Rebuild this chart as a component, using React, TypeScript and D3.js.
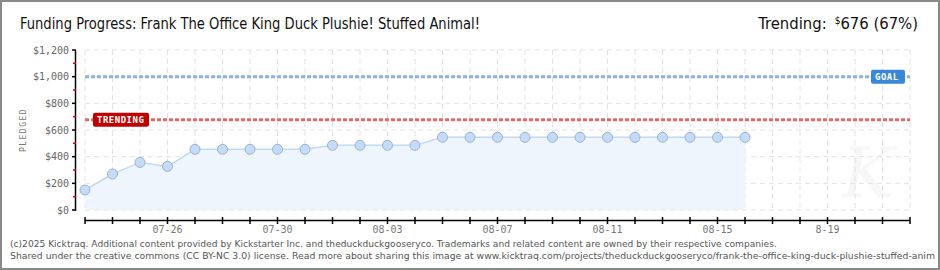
import React, { useEffect, useRef } from 'react';
import * as d3 from 'd3';

// ---- data ----
const days = [
  '2025-07-23', '2025-07-24', '2025-07-25', '2025-07-26', '2025-07-27', '2025-07-28', '2025-07-29',
  '2025-07-30', '2025-07-31', '2025-08-01', '2025-08-02', '2025-08-03', '2025-08-04', '2025-08-05',
  '2025-08-06', '2025-08-07', '2025-08-08', '2025-08-09', '2025-08-10', '2025-08-11', '2025-08-12',
  '2025-08-13', '2025-08-14', '2025-08-15', '2025-08-16',
];
const pledged = [
  150, 270, 357, 327, 455, 455, 455,
  455, 455, 485, 485, 485, 485, 545,
  545, 545, 545, 545, 545, 545, 545,
  545, 545, 545, 545,
];
const rangeStart = '2025-07-23';
const rangeEnd = '2025-08-22';
const labelDays = ['2025-07-26', '2025-07-30', '2025-08-03', '2025-08-07', '2025-08-11', '2025-08-15', '2025-08-19'];
const labelTexts = ['07-26', '07-30', '08-03', '08-07', '08-11', '08-15', '8-19'];
const yTicks = [0, 200, 400, 600, 800, 1000, 1200];
const yMinor = [100, 300, 500, 700, 900, 1100];
const goal = 1000;
const trending = 676;

const title = 'Funding Progress: Frank The Office King Duck Plushie! Stuffed Animal!';
const footer1 = '(c)2025 Kicktraq. Additional content provided by Kickstarter Inc. and theduckduckgooseryco. Trademarks and related content are owned by their respective companies.';
const footer2 = 'Shared under the creative commons (CC BY-NC 3.0) license. Read more about sharing this image at www.kicktraq.com/projects/theduckduckgooseryco/frank-the-office-king-duck-plushie-stuffed-anim';

export default function App() {
  const ref = useRef<SVGSVGElement>(null);
  const width = 940;
  const height = 270;
  const pixFont = '"DejaVu Sans Mono", monospace';

  useEffect(() => {
    const svg = d3.select(ref.current);
    svg.selectAll('*').remove();
    const parse = d3.timeParse('%Y-%m-%d');

    const x = d3.scaleTime()
      .domain([parse(rangeStart)!, parse(rangeEnd)!])
      .range([85, 910]);
    const y = d3.scaleLinear().domain([0, 1200]).range([210, 50]);

    // background + frame
    svg.append('rect').attr('x', 0).attr('y', 0).attr('width', width).attr('height', height).attr('fill', '#fff');
    svg.append('rect').attr('x', 1).attr('y', 1).attr('width', width - 2).attr('height', height - 2)
      .attr('fill', 'none').attr('stroke', '#8a8a8a').attr('stroke-width', 2);

    // ---------- title ----------
    svg.append('text')
      .attr('x', 20).attr('y', 29)
      .attr('font-family', '"DejaVu Sans Condensed", "Liberation Sans Narrow", "Roboto Condensed", sans-serif')
      .attr('font-stretch', 'condensed')
      .attr('font-size', 16.5)
      .attr('fill', '#111')
      .attr('textLength', 460).attr('lengthAdjust', 'spacingAndGlyphs')
      .text(title);

    const tr = svg.append('text')
      .attr('x', 918).attr('y', 29)
      .attr('text-anchor', 'end')
      .attr('font-family', '"DejaVu Sans Condensed", "Liberation Sans Narrow", sans-serif')
      .attr('font-stretch', 'condensed')
      .attr('font-size', 16.5)
      .attr('fill', '#111');
    tr.append('tspan').text('Trending:');
    tr.append('tspan').attr('font-size', 10).attr('dx', 8).attr('dy', -5).text('$');
    tr.append('tspan').attr('dy', 5).text(`${trending} (${Math.floor(trending / goal * 100)}%)`);

    // ---------- watermark ----------
    svg.append('text')
      .attr('x', 868).attr('y', 197)
      .attr('text-anchor', 'middle')
      .attr('font-family', '"DejaVu Serif", serif')
      .attr('font-style', 'italic')
      .attr('font-size', 70)
      .attr('fill', '#f7f7f7')
      .text('K');

    // ---------- grid ----------
    const dayTicks = d3.timeDay.range(x.domain()[0], d3.timeDay.offset(x.domain()[1], 1));
    svg.append('g').selectAll('line').data(dayTicks).join('line')
      .attr('x1', d => x(d)).attr('x2', d => x(d))
      .attr('y1', 50).attr('y2', 210)
      .attr('stroke', '#e2e2e2').attr('stroke-dasharray', '5,4');
    svg.append('g').selectAll('line').data(yTicks).join('line')
      .attr('x1', 85).attr('x2', 910)
      .attr('y1', d => y(d)).attr('y2', d => y(d))
      .attr('stroke', '#e2e2e2').attr('stroke-dasharray', '5,4');

    // ---------- area + line ----------
    const pts = days.map((d, i) => ({ date: parse(d)!, v: pledged[i] }));
    svg.append('path').datum(pts)
      .attr('fill', '#eef5fd')
      .attr('d', d3.area<any>().x(d => x(d.date)).y0(y(0)).y1(d => y(d.v)));
    svg.append('path').datum(pts)
      .attr('fill', 'none').attr('stroke', '#c3d9f1').attr('stroke-width', 1.5)
      .attr('d', d3.line<any>().x(d => x(d.date)).y(d => y(d.v)));

    // ---------- goal + trending ----------
    svg.append('line')
      .attr('x1', 85).attr('x2', 910).attr('y1', y(goal)).attr('y2', y(goal))
      .attr('stroke', '#8db1de').attr('stroke-width', 3).attr('stroke-dasharray', '4,2');
    svg.append('line')
      .attr('x1', 85).attr('x2', 910).attr('y1', y(trending)).attr('y2', y(trending))
      .attr('stroke', '#e06a6a').attr('stroke-width', 3).attr('stroke-dasharray', '4,2');

    // points
    svg.append('g').selectAll('circle').data(pts).join('circle')
      .attr('cx', d => x(d.date)).attr('cy', d => y(d.v))
      .attr('r', 5)
      .attr('fill', '#c4dcf7').attr('stroke', '#98b2d0').attr('stroke-width', 1);

    // label boxes
    const badge = (bx: number, by: number, w: number, fill: string, label: string) => {
      svg.append('rect').attr('x', bx).attr('y', by - 7).attr('width', w).attr('height', 14)
        .attr('rx', 2).attr('fill', fill);
      svg.append('text')
        .attr('x', bx + 4).attr('y', by + 3.5)
        .attr('font-family', pixFont).attr('font-size', 9).attr('font-weight', 'bold')
        .attr('fill', '#fff').attr('letter-spacing', 0.5)
        .text(label);
    };
    badge(93, y(trending), 56, '#c00000', 'TRENDING');
    badge(871, y(goal), 34, '#3a87d6', 'GOAL');

    // ---------- y axis ----------
    svg.append('line').attr('x1', 75.5).attr('x2', 75.5).attr('y1', 50).attr('y2', 211)
      .attr('stroke', '#000').attr('stroke-width', 1.5);
    svg.append('g').selectAll('line').data(yTicks).join('line')
      .attr('x1', 72).attr('x2', 76).attr('y1', d => y(d)).attr('y2', d => y(d))
      .attr('stroke', '#000').attr('stroke-width', 1.5);
    svg.append('g').selectAll('line').data(yMinor).join('line')
      .attr('x1', 73).attr('x2', 76).attr('y1', d => y(d)).attr('y2', d => y(d))
      .attr('stroke', '#e00000').attr('stroke-width', 1.5);
    svg.append('g').selectAll('text').data(yTicks).join('text')
      .attr('x', 69).attr('y', d => y(d) + 3.5)
      .attr('text-anchor', 'end')
      .attr('font-family', pixFont).attr('font-size', 10)
      .attr('fill', '#666')
      .text(d => d3.format('$,')(d));

    svg.append('text')
      .attr('transform', 'translate(26,130) rotate(-90)')
      .attr('text-anchor', 'middle')
      .attr('font-family', pixFont).attr('font-size', 8)
      .attr('letter-spacing', 1.5)
      .attr('fill', '#777')
      .text('PLEDGED');

    // ---------- x axis ----------
    svg.append('line').attr('x1', 85).attr('x2', 910).attr('y1', 220.5).attr('y2', 220.5)
      .attr('stroke', '#000').attr('stroke-width', 1.5);
    svg.append('g').selectAll('line').data(dayTicks).join('line')
      .attr('x1', d => x(d)).attr('x2', d => x(d))
      .attr('y1', 217).attr('y2', 224)
      .attr('stroke', '#000').attr('stroke-width', 1.5);
    svg.append('g').selectAll('text').data(labelDays).join('text')
      .attr('x', d => x(parse(d)!)).attr('y', 233)
      .attr('text-anchor', 'middle')
      .attr('font-family', pixFont).attr('font-size', 10)
      .attr('fill', '#777')
      .text((d, i) => labelTexts[i]);

    // ---------- footer ----------
    svg.append('text')
      .attr('x', 10).attr('y', 247)
      .attr('font-family', '"DejaVu Sans", Verdana, sans-serif').attr('font-size', 9.1)
      .attr('fill', '#555')
      .text(footer1);
    svg.append('text')
      .attr('x', 10).attr('y', 259)
      .attr('font-family', '"DejaVu Sans", Verdana, sans-serif').attr('font-size', 9.3)
      .attr('fill', '#555')
      .attr('textLength', 925).attr('lengthAdjust', 'spacingAndGlyphs')
      .text(footer2);
  }, []);

  return (
    <svg
      ref={ref}
      width={width}
      height={height}
      style={{ position: 'fixed', left: 0, top: 0, display: 'block' }}
    />
  );
}
